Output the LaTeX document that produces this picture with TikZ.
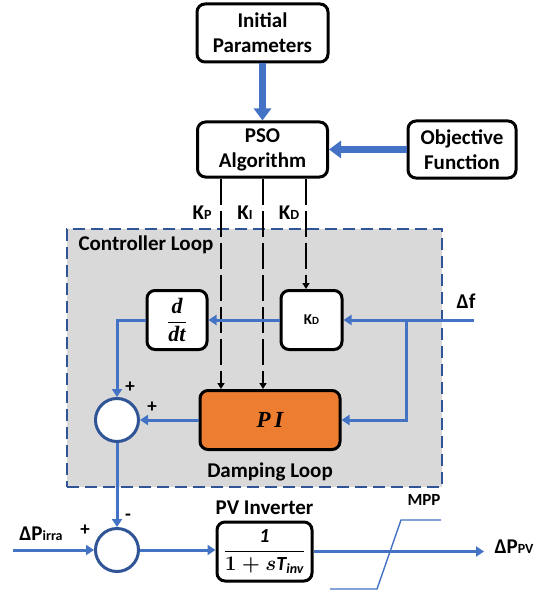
\documentclass[tikz,border=0pt]{standalone}
\usepackage{amsmath}
\usepackage{fontspec}
\setmainfont{Carlito}
\newfontfamily\serifrm{Liberation Serif}
\newcommand{\serifbi}{\serifrm\bfseries\itshape}
\usetikzlibrary{positioning,arrows.meta,calc}
\definecolor{azul}{HTML}{4472C4}
\definecolor{azuloscuro}{HTML}{2F5597}
\definecolor{naranja}{HTML}{ED7D31}
\definecolor{grisfondo}{HTML}{D9D9D9}
\newcommand{\subind}[2][14]{{\fontsize{#1}{#1}\selectfont #2}}
\newcommand{\sbi}[1]{\text{\serifbi #1}}

\begin{document}
\begin{tikzpicture}[x=1pt, y=-1pt,
  font=\fontsize{21}{25}\selectfont\bfseries,
  bloque/.style={draw, line width=3pt, rounded corners=8pt, align=center,
    fill=white, inner sep=2pt},
  suma/.style={draw=azuloscuro, line width=3pt, circle, fill=white,
    minimum size=43pt, inner sep=0pt},
  marco/.style={draw=azuloscuro, fill=grisfondo, line width=2.2pt,
    dash pattern=on 12pt off 6pt},
  flujo/.style={azul, line width=3pt, -{Triangle[length=8pt,width=10pt]}},
  grueso/.style={azul, line width=7pt, -{Triangle[length=12pt,width=17pt]}},
  ganancia/.style={line width=1.6pt, dash pattern=on 26pt off 6pt,
    -{Triangle[length=6pt,width=7pt]}},
  signo/.style={font=\fontsize{19}{19}\selectfont\bfseries},
  etiq/.style={font=\fontsize{21}{25}\selectfont\bfseries}]
\useasboundingbox (0,0) rectangle (542,596);
% Optimizador
\node[bloque, minimum width=131pt, minimum height=58pt] (ini) at (262.5,33)
  {Initial\\Parameters};
\node[bloque, minimum width=130pt, minimum height=55pt] (pso) at (262.5,149.5)
  {PSO\\Algorithm};
\node[bloque, minimum width=108pt, minimum height=57pt] (obj) at (462,149.5)
  {Objective\\Function};
\draw[grueso] (ini.south) -- (pso.north);
\draw[grueso] (obj.west) -- (pso.east);
% Lazo del controlador
\node[marco, minimum width=375pt, minimum height=258pt] (lazo) at (254.5,358) {};
\node[etiq, anchor=west] (tlazo) at (75,245) {Controller Loop};
\node[bloque, minimum width=60pt, minimum height=59pt] (ddt) at (177,320)
  {{\fontsize{22}{22}\selectfont$\dfrac{\sbi{d}}{\sbi{dt}}$}};
\node[bloque, minimum width=61pt, minimum height=59pt] (kd) at (311.5,320)
  {\subind[15]{K}\subind[11]{D}};
\node[bloque, fill=naranja, minimum width=140pt, minimum height=59pt] (pi)
  at (270,420) {{\fontsize{23}{23}\selectfont\serifbi P\,I}};
\node[etiq, below=8pt of pi] (tamort) {Damping Loop};
\node[suma] (s1) at (117,420) {};
\node[signo] at (130,387) {+};
\node[signo] at (152,407) {+};
% Ganancias que entrega el PSO
\coordinate (cP) at (221,0);
\coordinate (cI) at (263,0);
\coordinate (cD) at (306,0);
\draw[ganancia] (cP |- pso.south) -- (cP |- pi.north);
\draw[ganancia] (cI |- pso.south) -- (cI |- pi.north);
\draw[ganancia] (cD |- pso.south) -- (cD |- kd.north);
\node[etiq] at (202,213) {K\subind{P}};
\node[etiq] at (245,213) {K\subind{I}};
\node[etiq] at (289,213) {K\subind{D}};
% Entrada de frecuencia
\coordinate (df) at (474,320);
\coordinate (rama) at (406,320);
\node[etiq] at (466,301) {Δf};
\draw[flujo] (df) -- (kd.east);
\draw[flujo] (rama) |- (pi.east);
\draw[flujo] (kd.west) -- (ddt.east);
\draw[flujo] (ddt.west) -| (s1.north);
\draw[flujo] (pi.west) -- (s1.east);
% Inversor FV
\node[suma] (s2) at (117,550) {};
\node[signo] at (128,517) {-};
\node[signo] at (85,530) {+};
\coordinate (irra) at (13,550);
\node[etiq] at (41,534) {ΔP\subind{irra}};
\node[bloque, minimum width=95pt, minimum height=59pt] (inv) at (264.5,551.5)
  {{\fontsize{20}{20}\selectfont
   $\dfrac{\textit{1}}{\boldsymbol{1+s}\textit{T}_{\textit{inv}}}$}};
\node[etiq, above=2pt of inv] (tinv) {PV Inverter};
\coordinate (out) at (484,551.5);
\node[etiq] at (514,547) {ΔP\subind{PV}};
\draw[flujo] (s1.south) -- (s2.north);
\draw[flujo] (irra) -- (s2.west);
\draw[flujo] (s2.east) -- (s2.east -| inv.west);
\draw[flujo] (inv.east) -- (out);
% Limitador MPP
\draw[azul, line width=1.4pt] (330,589) -- (377,589) -- (401,520) -- (441,520);
\node[etiq, font=\fontsize{17}{17}\selectfont\bfseries] at (424,500) {MPP};
\end{tikzpicture}
\end{document}
